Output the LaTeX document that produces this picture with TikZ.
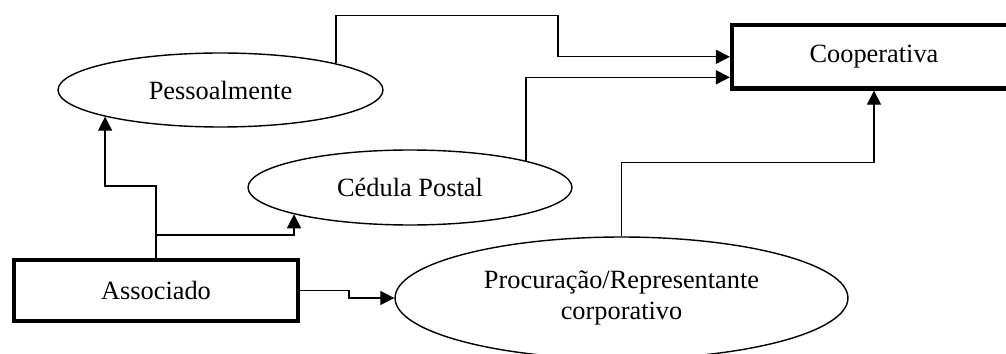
\documentclass[tikz,border=0pt]{standalone}
\usepackage{fontspec}
\setmainfont{Liberation Serif}
\usetikzlibrary{arrows.meta,calc,shapes.geometric}
\tikzset{
  actor/.style={draw, line width=2.4pt, minimum width=5.68cm, minimum height=1.22cm, inner sep=0pt, fill=white, font=\fontsize{15}{18}\selectfont},
  channel/.style={draw, ellipse, line width=0.8pt, inner sep=0pt, fill=white, align=center, font=\fontsize{15}{18}\selectfont},
  arr/.style={-{Triangle[length=2.8mm, width=2.8mm]}, line width=0.7pt}}

\begin{document}
\begin{tikzpicture}[x=0.02cm, y=-0.02cm]
  \useasboundingbox (0,0) rectangle (1006,354);
  \node[actor] (assoc) at (156,290.5) {Associado};
  \node[actor, minimum height=1.27cm] (coop) at (874,56.8) {Cooperativa};
  \node[channel, minimum width=6.5cm, minimum height=1.48cm] (pess) at (220.5,90) {Pessoalmente};
  \node[channel, minimum width=6.48cm, minimum height=1.5cm] (ced) at (410,187.5) {Cédula Postal};
  \node[channel, minimum width=9.06cm, minimum height=2.44cm] (proc) at (621.5,298) {Procuração/Representante\\corporativo};
  % associado -> channels
  \coordinate (fork) at ($(assoc.north)+(0,-23)$);
  \draw[arr] (assoc.north) -- ++(0,-72) -| (pess.193);
  \draw[arr] (fork) -| (ced.193);
  \draw[arr] (assoc.east) -- ++(49,0) |- (proc.west);
  % channels -> cooperativa
  \draw[arr] (pess.13) |- ++(222,-48) |- (coop.west);
  \draw[arr] (ced.13) |- ($(coop.west)+(0,20.5)$);
  \draw[arr] (proc.north) -- ++(0,-74) -| (coop.south);
\end{tikzpicture}
\end{document}
